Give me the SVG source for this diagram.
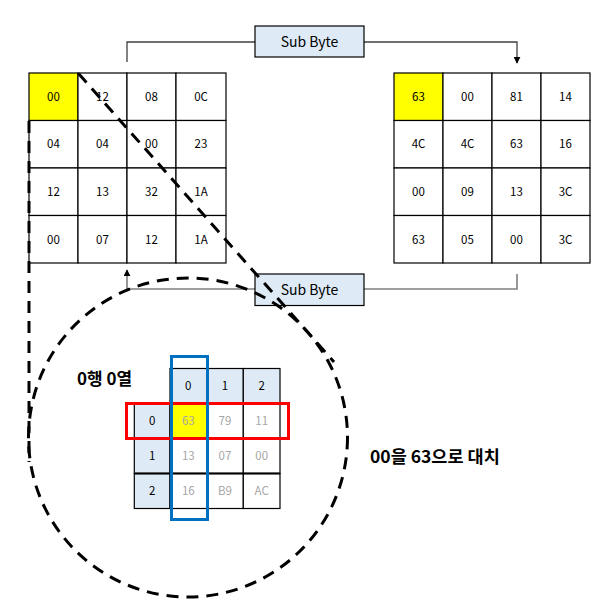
<svg xmlns="http://www.w3.org/2000/svg" width="601" height="614" viewBox="0 0 601 614">
<defs>
<style>
.cell{fill:#fff;stroke:#000;stroke-width:1.2}
.y{fill:#ffff00}
.hd{fill:#deebf7;stroke:#000;stroke-width:1.2}
.t{font-family:"Noto Sans CJK KR","Noto Sans",sans-serif;font-size:11.5px;text-anchor:middle;fill:#000}
.g{fill:#a6a6a6}
.lbl{font-family:"Noto Sans CJK KR","Noto Sans",sans-serif;font-size:14px;text-anchor:middle;fill:#000}
.kt{font-family:"Noto Sans CJK KR","Noto Sans",sans-serif;font-weight:700;fill:#000}
.conn{fill:none;stroke:#404040;stroke-width:1.3}
.conn2{fill:none;stroke:#7f7f7f;stroke-width:1.6}
.dash{fill:none;stroke:#000;stroke-width:3;stroke-dasharray:12 8}
</style>
<marker id="arr" viewBox="0 0 10 10" refX="9" refY="5" markerWidth="7" markerHeight="7" orient="auto" markerUnits="userSpaceOnUse">
<path d="M0,0 L10,5 L0,10 z" fill="#000"/>
</marker>
</defs>
<rect width="601" height="614" fill="#fff"/>

<g id="connectors">
<path class="conn" d="M127,62 V42 H255"/>
<path class="conn" d="M364,42 H517 V63" marker-end="url(#arr)"/>
<path class="conn2" d="M517,274 V289 H364"/>
<path class="conn2" d="M255,289 H127 V270" marker-end="url(#arr)"/>
</g>

<g id="subbyte-top">
<rect x="255" y="26" width="109" height="31" class="hd"/>
<text x="309.5" y="47" class="lbl">Sub Byte</text>
</g>
<g id="subbyte-bottom">
<rect x="255" y="274" width="109" height="31.5" class="hd"/>
<text x="309.5" y="295" class="lbl">Sub Byte</text>
</g>

<g id="state-input">
<rect x="29" y="73" width="49" height="47.5" class="cell y"/>
<rect x="78" y="73" width="49" height="47.5" class="cell"/>
<rect x="127" y="73" width="49" height="47.5" class="cell"/>
<rect x="176" y="73" width="50" height="47.5" class="cell"/>
<rect x="29" y="120.5" width="49" height="47.5" class="cell"/>
<rect x="78" y="120.5" width="49" height="47.5" class="cell"/>
<rect x="127" y="120.5" width="49" height="47.5" class="cell"/>
<rect x="176" y="120.5" width="50" height="47.5" class="cell"/>
<rect x="29" y="168" width="49" height="47.5" class="cell"/>
<rect x="78" y="168" width="49" height="47.5" class="cell"/>
<rect x="127" y="168" width="49" height="47.5" class="cell"/>
<rect x="176" y="168" width="50" height="47.5" class="cell"/>
<rect x="29" y="215.5" width="49" height="47.5" class="cell"/>
<rect x="78" y="215.5" width="49" height="47.5" class="cell"/>
<rect x="127" y="215.5" width="49" height="47.5" class="cell"/>
<rect x="176" y="215.5" width="50" height="47.5" class="cell"/>
<text x="53.5" y="100.5" class="t">00</text>
<text x="102.5" y="100.5" class="t">12</text>
<text x="151.5" y="100.5" class="t">08</text>
<text x="201" y="100.5" class="t">0C</text>
<text x="53.5" y="148" class="t">04</text>
<text x="102.5" y="148" class="t">04</text>
<text x="151.5" y="148" class="t">00</text>
<text x="201" y="148" class="t">23</text>
<text x="53.5" y="196" class="t">12</text>
<text x="102.5" y="196" class="t">13</text>
<text x="151.5" y="196" class="t">32</text>
<text x="201" y="196" class="t">1A</text>
<text x="53.5" y="243.5" class="t">00</text>
<text x="102.5" y="243.5" class="t">07</text>
<text x="151.5" y="243.5" class="t">12</text>
<text x="201" y="243.5" class="t">1A</text>
</g>

<g id="state-output">
<rect x="394" y="73" width="49" height="47.5" class="cell y"/>
<rect x="443" y="73" width="49" height="47.5" class="cell"/>
<rect x="492" y="73" width="49" height="47.5" class="cell"/>
<rect x="541" y="73" width="49" height="47.5" class="cell"/>
<rect x="394" y="120.5" width="49" height="47.5" class="cell"/>
<rect x="443" y="120.5" width="49" height="47.5" class="cell"/>
<rect x="492" y="120.5" width="49" height="47.5" class="cell"/>
<rect x="541" y="120.5" width="49" height="47.5" class="cell"/>
<rect x="394" y="168" width="49" height="47.5" class="cell"/>
<rect x="443" y="168" width="49" height="47.5" class="cell"/>
<rect x="492" y="168" width="49" height="47.5" class="cell"/>
<rect x="541" y="168" width="49" height="47.5" class="cell"/>
<rect x="394" y="215.5" width="49" height="47.5" class="cell"/>
<rect x="443" y="215.5" width="49" height="47.5" class="cell"/>
<rect x="492" y="215.5" width="49" height="47.5" class="cell"/>
<rect x="541" y="215.5" width="49" height="47.5" class="cell"/>
<text x="418.5" y="100.5" class="t">63</text>
<text x="467.5" y="100.5" class="t">00</text>
<text x="516.5" y="100.5" class="t">81</text>
<text x="565.5" y="100.5" class="t">14</text>
<text x="418.5" y="148" class="t">4C</text>
<text x="467.5" y="148" class="t">4C</text>
<text x="516.5" y="148" class="t">63</text>
<text x="565.5" y="148" class="t">16</text>
<text x="418.5" y="196" class="t">00</text>
<text x="467.5" y="196" class="t">09</text>
<text x="516.5" y="196" class="t">13</text>
<text x="565.5" y="196" class="t">3C</text>
<text x="418.5" y="243.5" class="t">63</text>
<text x="467.5" y="243.5" class="t">05</text>
<text x="516.5" y="243.5" class="t">00</text>
<text x="565.5" y="243.5" class="t">3C</text>
</g>

<g id="sbox">
<rect x="170" y="368.5" width="36.7" height="35" class="hd"/>
<rect x="206.7" y="368.5" width="36.6" height="35" class="hd"/>
<rect x="243.3" y="368.5" width="36.7" height="35" class="hd"/>
<rect x="134.3" y="403.5" width="35.7" height="35" class="hd"/>
<rect x="134.3" y="438.5" width="35.7" height="35" class="hd"/>
<rect x="134.3" y="473.5" width="35.7" height="35" class="hd"/>
<rect x="170" y="403.5" width="36.7" height="35" class="cell y"/>
<rect x="206.7" y="403.5" width="36.6" height="35" class="cell"/>
<rect x="243.3" y="403.5" width="36.7" height="35" class="cell"/>
<rect x="170" y="438.5" width="36.7" height="35" class="cell"/>
<rect x="206.7" y="438.5" width="36.6" height="35" class="cell"/>
<rect x="243.3" y="438.5" width="36.7" height="35" class="cell"/>
<rect x="170" y="473.5" width="36.7" height="35" class="cell"/>
<rect x="206.7" y="473.5" width="36.6" height="35" class="cell"/>
<rect x="243.3" y="473.5" width="36.7" height="35" class="cell"/>
<line x1="134.3" y1="473.5" x2="280" y2="473.5" stroke="#000" stroke-width="2"/>
<text x="188.3" y="390" class="t">0</text>
<text x="225" y="390" class="t">1</text>
<text x="261.7" y="390" class="t">2</text>
<text x="152.2" y="425" class="t">0</text>
<text x="152.2" y="460" class="t">1</text>
<text x="152.2" y="495" class="t">2</text>
<text x="188.3" y="425" class="t g">63</text>
<text x="225" y="425" class="t g">79</text>
<text x="261.7" y="425" class="t g">11</text>
<text x="188.3" y="460" class="t g">13</text>
<text x="225" y="460" class="t g">07</text>
<text x="261.7" y="460" class="t g">00</text>
<text x="188.3" y="495" class="t g">16</text>
<text x="225" y="495" class="t g">B9</text>
<text x="261.7" y="495" class="t g">AC</text>
<rect x="126.5" y="403.5" width="162" height="35" fill="none" stroke="#ff0000" stroke-width="3"/>
<rect x="171.5" y="356.5" width="36" height="163" fill="none" stroke="#0070c0" stroke-width="3"/>
</g>

<g id="labels">
<text x="77" y="385" class="kt" font-size="17">0행 0열</text>
<text x="370" y="463" class="kt" font-size="17.5">00을 63으로 대치</text>
</g>

<g id="zoom-callout">
<circle cx="188" cy="437.5" r="159.5" class="dash"/>
<line x1="29" y1="121" x2="29" y2="462" class="dash"/>
<line x1="78.5" y1="73.5" x2="334" y2="362" class="dash"/>
</g>
</svg>
